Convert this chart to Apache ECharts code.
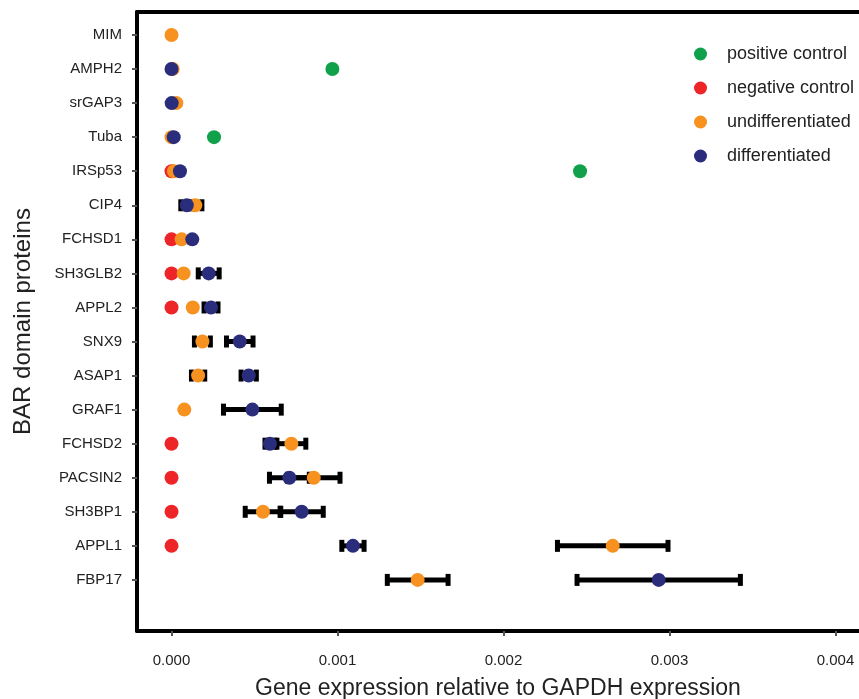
<!DOCTYPE html>
<html>
<head>
<meta charset="utf-8">
<script src="https://cdn.jsdelivr.net/npm/echarts@6/dist/echarts.min.js"></script>
<style>
  html, body { margin: 0; padding: 0; background: #fff; }
  #chart { width: 859px; height: 699px; }
</style>
</head>
<body>
<div id="chart"></div>
<script>
var proteins = ['MIM', 'AMPH2', 'srGAP3', 'Tuba', 'IRSp53', 'CIP4', 'FCHSD1', 'SH3GLB2', 'APPL2', 'SNX9', 'ASAP1', 'GRAF1', 'FCHSD2', 'PACSIN2', 'SH3BP1', 'APPL1', 'FBP17'];
var positive_control = [null, 0.000969, null, 0.000256, 0.002461, null, null, null, null, null, null, null, null, null, null, null, null];
var negative_control = [null, null, null, null, 0, null, 0, 0, 0, null, null, null, 0, 0, 0, 0, null];
var undifferentiated = [0, 0.000007, 0.000029, 0, 0.000015, 0.000143, 0.000061, 0.000073, 0.000128, 0.000186, 0.000160, 0.000077, 0.000722, 0.000857, 0.000551, 0.002658, 0.001483];
var undifferentiated_err = [null, null, null, null, null, 0.00004, null, null, null, 0.000048, 0.00004, null, 0.000087, 0.000158, 0.000107, 0.000333, 0.000183];
var differentiated = [null, 0, 0.000001, 0.000013, 0.000051, 0.000092, 0.000125, 0.000224, 0.000238, 0.000411, 0.000465, 0.000487, 0.000593, 0.00071, 0.000784, 0.001093, 0.002935];
var differentiated_err = [null, null, null, null, null, 0.000036, null, 0.000063, 0.000042, 0.00008, 0.000046, 0.000174, 0.00003, 0.00012, 0.00013, 0.000067, 0.000492];
var x_ticks = [0, 0.001, 0.002, 0.003, 0.004];

var font = 'Liberation Sans, Arial, sans-serif';
var text_color = '#222';
var x_min = -0.000208, x_max = 0.0041416;

function points(values) {
	var out = [];
	values.forEach(function (v, i) {
		if (v !== null) out.push([v, i]);
	});
	return out;
}

function errRows(values, errs) {
	var out = [];
	values.forEach(function (v, i) {
		if (v !== null && errs[i] !== null) out.push([i, v - errs[i], v + errs[i]]);
	});
	return out;
}

function renderErr(params, api) {
	var y = api.value(0);
	var a = api.coord([api.value(1), y]);
	var b = api.coord([api.value(2), y]);
	var capW = 5, capH = 12;
	return {
		type: 'group',
		children: [
			{ type: 'line', shape: { x1: a[0], y1: a[1], x2: b[0], y2: b[1] }, style: { stroke: '#000', lineWidth: 5 } },
			{ type: 'rect', shape: { x: a[0] - capW / 2, y: a[1] - capH / 2, width: capW, height: capH }, style: { fill: '#000' } },
			{ type: 'rect', shape: { x: b[0] - capW / 2, y: b[1] - capH / 2, width: capW, height: capH }, style: { fill: '#000' } }
		]
	};
}

var errAll = errRows(undifferentiated, undifferentiated_err).concat(errRows(differentiated, differentiated_err));
var rowIdx = proteins.map(function (p, i) { return i; });

var chart = echarts.init(document.getElementById('chart'));
var option = {
	animation: false,
	textStyle: { fontFamily: font },
	grid: {
		left: 137,
		right: 0,
		top: 12,
		bottom: 68,
		outerBoundsMode: 'none',
		containLabel: false
	},
	legend: {
		orient: 'vertical',
		left: 689,
		top: 40,
		itemWidth: 13,
		itemHeight: 13,
		itemGap: 16,
		icon: 'circle',
		textStyle: { fontSize: 18, color: text_color, fontFamily: font, padding: [0, 0, 0, 15] },
		data: ['positive control', 'negative control', 'undifferentiated', 'differentiated']
	},
	xAxis: [{
		type: 'value',
		min: x_min,
		max: x_max,
		name: 'Gene expression relative to GAPDH expression',
		nameLocation: 'middle',
		nameGap: 46,
		nameTextStyle: { fontSize: 23, color: text_color, fontFamily: font },
		splitLine: { show: false },
		axisLine: { show: true, onZero: false, lineStyle: { color: '#000', width: 4 } },
		axisTick: { show: true, customValues: x_ticks, length: 5, lineStyle: { color: '#555', width: 2 } },
		axisLabel: {
			customValues: x_ticks,
			margin: 22,
			fontSize: 15,
			color: text_color,
			formatter: function (v) { return v.toFixed(3); }
		}
	}, {
		type: 'value',
		position: 'top',
		min: x_min,
		max: x_max,
		splitLine: { show: false },
		axisLine: { show: true, onZero: false, lineStyle: { color: '#000', width: 4 } },
		axisTick: { show: false },
		axisLabel: { show: false }
	}],
	yAxis: {
		type: 'value',
		inverse: true,
		min: -0.675,
		max: 17.5,
		name: 'BAR domain proteins',
		nameLocation: 'middle',
		nameRotate: 90,
		nameGap: 102,
		nameTextStyle: { fontSize: 24, color: text_color, fontFamily: font },
		splitLine: { show: false },
		axisLine: { show: true, onZero: false, lineStyle: { color: '#000', width: 4 } },
		axisTick: { show: true, customValues: rowIdx, length: 5, lineStyle: { color: '#555', width: 2 } },
		axisLabel: {
			customValues: rowIdx,
			margin: 15,
			fontSize: 15,
			color: text_color,
			padding: [4, 0, 0, 0],
			formatter: function (v) { return proteins[Math.round(v)] || ''; }
		}
	},
	series: [
		{
			name: 'error',
			type: 'custom',
			renderItem: renderErr,
			encode: { x: [1, 2], y: 0 },
			data: errAll,
			z: 1
		},
		{
			name: 'positive control',
			type: 'scatter',
			symbolSize: 14,
			itemStyle: { color: '#10a14a', opacity: 1 },
			data: points(positive_control),
			z: 2
		},
		{
			name: 'negative control',
			type: 'scatter',
			symbolSize: 14,
			itemStyle: { color: '#ee2528', opacity: 1 },
			data: points(negative_control),
			z: 2
		},
		{
			name: 'undifferentiated',
			type: 'scatter',
			symbolSize: 14,
			itemStyle: { color: '#f7911f', opacity: 1 },
			data: points(undifferentiated),
			z: 3
		},
		{
			name: 'differentiated',
			type: 'scatter',
			symbolSize: 14,
			itemStyle: { color: '#2a2d7c', opacity: 1 },
			data: points(differentiated),
			z: 4
		}
	]
};
chart.setOption(option);
</script>
</body>
</html>
